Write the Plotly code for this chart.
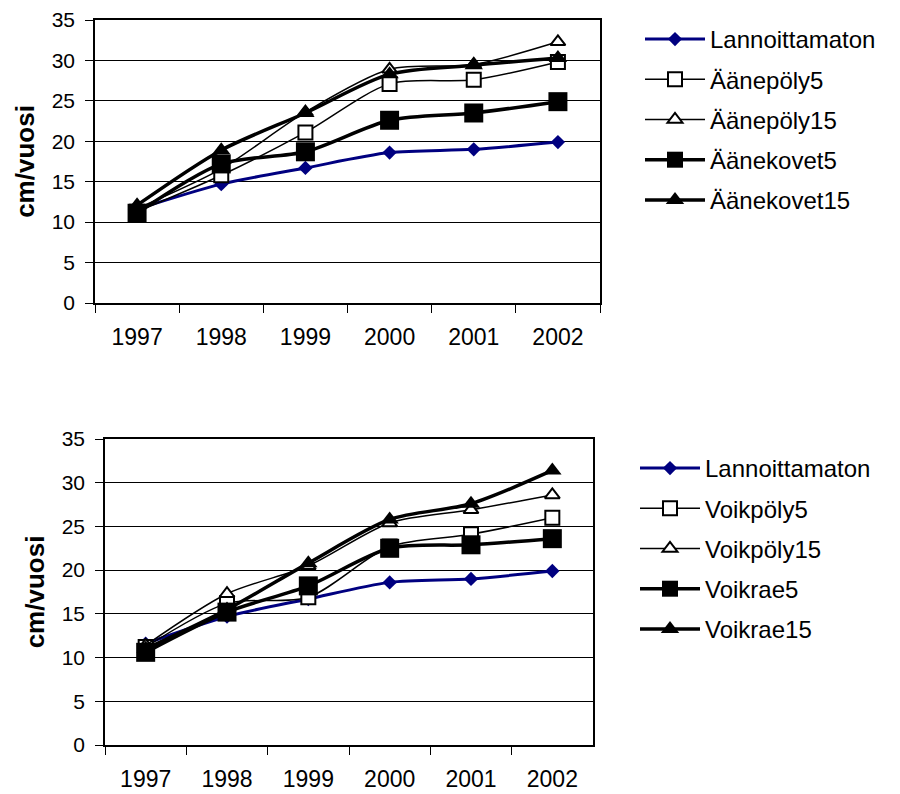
import plotly.graph_objects as go

# Vuosikasvu (cm/vuosi) lannoituskokeissa 1997-2002
years = ["1997", "1998", "1999", "2000", "2001", "2002"]
y_ticks = [0, 5, 10, 15, 20, 25, 30, 35]

# Äänekoski-lannoitteet
lannoittamaton = [11.6, 14.7, 16.7, 18.6, 19.0, 19.9]
aanepoly5 = [11.3, 15.8, 21.1, 27.1, 27.6, 29.8]
aanepoly15 = [11.7, 16.6, 23.6, 28.9, 29.5, 32.3]
aanekovet5 = [11.1, 17.2, 18.7, 22.6, 23.5, 24.9]
aanekovet15 = [12.1, 18.9, 23.5, 28.3, 29.4, 30.3]

# Voikkaa-lannoitteet
voikpoly5 = [11.2, 16.2, 16.9, 22.7, 24.1, 26.0]
voikpoly15 = [11.4, 17.3, 20.5, 25.4, 26.9, 28.6]
voikrae5 = [10.6, 15.2, 18.2, 22.5, 22.9, 23.6]
voikrae15 = [11.0, 15.5, 20.8, 25.8, 27.6, 31.4]

NAVY = "#000080"
FONT = "Liberation Sans, Arial, sans-serif"

# series styles: (symbol, size, fill, line width, line colour)
styles = {
    "base": ("diamond", 11, NAVY, 3.0, NAVY),
    "poly5": ("square", 14, "white", 1.5, "black"),
    "poly15": ("triangle-up", 13, "white", 1.5, "black"),
    "kova5": ("square", 19, "black", 3.5, "black"),
    "kova15": ("triangle-up", 16, "black", 3.5, "black"),
}

top_series = [
    ("Lannoittamaton", lannoittamaton, "base"),
    ("Äänepöly5", aanepoly5, "poly5"),
    ("Äänepöly15", aanepoly15, "poly15"),
    ("Äänekovet5", aanekovet5, "kova5"),
    ("Äänekovet15", aanekovet15, "kova15"),
]
bottom_series = [
    ("Lannoittamaton", lannoittamaton, "base"),
    ("Voikpöly5", voikpoly5, "poly5"),
    ("Voikpöly15", voikpoly15, "poly15"),
    ("Voikrae5", voikrae5, "kova5"),
    ("Voikrae15", voikrae15, "kova15"),
]

fig = go.Figure()


def add_series(series, xa, ya, legend, grp):
    for i, (name, vals, key) in enumerate(series):
        sym, size, fill, lw, lc = styles[key]
        fig.add_trace(go.Scatter(
            x=years, y=vals, name=name, mode="lines+markers",
            xaxis=xa, yaxis=ya, legend=legend,
            legendgroup=f"{grp}{i}",
            line=dict(color=lc, width=lw, shape="spline", smoothing=0.8),
            marker=dict(symbol=sym, size=size, color=fill,
                        line=dict(color=lc,
                                  width=2 if fill == "white" else 0)),
        ))


add_series(top_series, "x", "y", "legend", "a")
add_series(bottom_series, "x2", "y2", "legend2", "b")

W, H = 900, 794


def xdom(a, b):
    return [a / W, b / W]


def ydom(top, bottom):
    return [1 - bottom / H, 1 - top / H]


xaxis_common = dict(
    type="category", range=[-0.5, 5.5], tickson="boundaries",
    ticks="outside", ticklen=8, tickcolor="black", tickwidth=1,
    showline=True, linecolor="black", linewidth=1.5, mirror=True,
    showgrid=False, ticklabelstandoff=13, automargin=False,
    tickfont=dict(family=FONT, size=23, color="black"),
)
yaxis_common = dict(
    range=[0, 35], tickvals=y_ticks, ticks="outside", ticklen=8,
    tickcolor="black", tickwidth=1,
    showline=True, linecolor="black", linewidth=1.5, mirror=True,
    showgrid=True, gridcolor="black", gridwidth=1, zeroline=False,
    ticklabelstandoff=6, automargin=False,
    tickfont=dict(family=FONT, size=21, color="black"),
    title=dict(text="<b>cm/vuosi</b>", standoff=10,
               font=dict(family=FONT, size=26, color="black")),
)

legend_common = dict(
    font=dict(family=FONT, size=24, color="black"),
    bgcolor="rgba(0,0,0,0)", borderwidth=0,
    traceorder="grouped", tracegroupgap=6,
    itemwidth=60, xanchor="left", yanchor="top",
)

fig.update_layout(
    width=W, height=H,
    margin=dict(l=0, r=0, t=0, b=0, autoexpand=False),
    paper_bgcolor="white", plot_bgcolor="white",
    font=dict(family=FONT, color="black"),
    xaxis=dict(domain=xdom(95, 600), anchor="y", **xaxis_common),
    yaxis=dict(domain=ydom(20, 303), anchor="x", **yaxis_common),
    xaxis2=dict(domain=xdom(105, 593), anchor="y2", **xaxis_common),
    yaxis2=dict(domain=ydom(439, 745), anchor="x2", **yaxis_common),
    legend=dict(x=640 / W, y=1 - 17 / H, **legend_common),
    legend2=dict(x=635 / W, y=1 - 446 / H, **legend_common),
)

fig.write_html("out.html")
